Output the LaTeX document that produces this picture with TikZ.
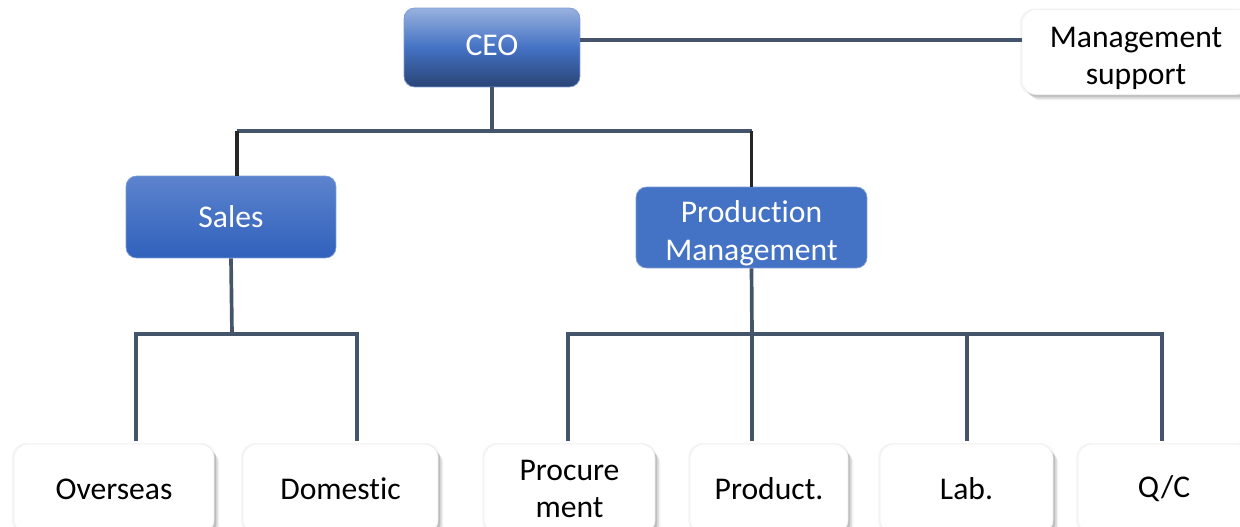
\documentclass[tikz,border=0pt]{standalone}
\usepackage{fontspec}
\setmainfont{Carlito}[Ligatures=NoCommon]
\usetikzlibrary{shadows}
\definecolor{linkgray}{HTML}{44546A}
\definecolor{boxblue}{HTML}{4472C4}
\definecolor{salestop}{RGB}{92,131,205}
\definecolor{salesbot}{RGB}{48,97,188}
\begin{document}
\begin{tikzpicture}[x=0.02cm, y=-0.02cm,
        every node/.style={font=\fontsize{18}{21.5}\selectfont, align=center, inner sep=0pt},
        bluebox/.style={rounded corners=6pt, text=white, draw=boxblue!70, line width=0.4pt},
        whitebox/.style={rounded corners=8pt, fill=white, draw=black!6, line width=0.4pt, minimum height=1.8cm,
            general shadow={shadow xshift=0.11cm, shadow yshift=-0.12cm, fill=black, opacity=0.05},
            general shadow={shadow xshift=0.08cm, shadow yshift=-0.09cm, fill=black, opacity=0.08},
            general shadow={shadow xshift=0.05cm, shadow yshift=-0.06cm, fill=black, opacity=0.12},
            general shadow={shadow xshift=0cm, shadow yshift=0cm, shadow scale=1.02, fill=black, opacity=0.04}},
        link/.style={draw=linkgray, line width=2.1pt},
        blacklink/.style={draw=black!85, line width=2.1pt}]
    \useasboundingbox (0,0) rectangle (1240,527);
    % top level
    \node[bluebox, top color=boxblue!55!white, bottom color=boxblue!60!black, middle color=boxblue,
        minimum width=3.52cm, minimum height=1.58cm, text height=0.95em] (ceo) at (492,47.5) {CEO};
    \node[whitebox, minimum width=4.56cm, minimum height=1.7cm] (msup) at (1136,52) {\rule{0pt}{1.05em}Management\\support};
    % second level
    \node[bluebox, top color=salestop, bottom color=salesbot,
        minimum width=4.2cm, minimum height=1.64cm] (sales) at (231,217) {Sales};
    \node[bluebox, fill=boxblue, minimum width=4.62cm, minimum height=1.62cm] (pm) at (751.5,227.5) {\rule{0pt}{1.05em}Production\\Management};
    % bottom level
    \node[whitebox, minimum width=4.0cm] (over) at (114,489) {Overseas};
    \node[whitebox, minimum width=3.9cm] (dom) at (340.5,489) {Domestic};
    \node[whitebox, minimum width=3.42cm] (proc) at (569.5,489) {Procure\\ment};
    \node[whitebox, minimum width=3.16cm] (prod) at (769,489) {Product.};
    \node[whitebox, minimum width=3.46cm] (lab) at (966.5,489) {Lab.};
    \node[whitebox, minimum width=3.44cm] (qc) at (1164,489) {Q/C};

    \coordinate (ceobar) at (492,131);
    \coordinate (salesbar) at (232,334);
    \coordinate (pmbar) at (752,334);

    \draw[link] ([yshift=0.15cm]ceo.east) -- ([yshift=0.15cm]ceo.east -| msup.west);
    \draw[link] (ceo.south) -- (ceobar);
    \draw[link] ([xshift=0.12cm]sales.north |- ceobar) -- (pm.north |- ceobar);
    \draw[blacklink] ([xshift=0.12cm]sales.north) -- ([xshift=0.12cm]sales.north |- ceobar);
    \draw[blacklink] (pm.north) -- (pm.north |- ceobar);

    \draw[link] (sales.south) -- (salesbar);
    \foreach \n/\dx in {over/0.44, dom/0.33}{
        \draw[link] ([xshift=\dx cm, yshift=0.06cm]\n.north) |- (salesbar);
    }
    \draw[link] (pm.south) -- (pmbar);
    \foreach \n/\dx in {proc/-0.03, prod/-0.34, lab/0.01, qc/-0.04}{
        \draw[link] ([xshift=\dx cm, yshift=0.06cm]\n.north) |- (pmbar);
    }
\end{tikzpicture}
\end{document}
